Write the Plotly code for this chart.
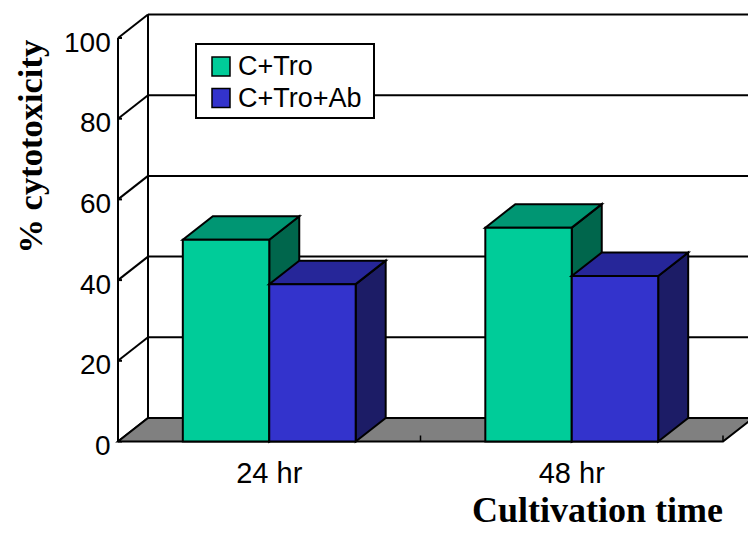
import plotly.graph_objects as go

# ---- data -------------------------------------------------------------
categories = ["24 hr", "48 hr"]
series_names = ["C+Tro", "C+Tro+Ab"]
c_tro = [50, 53]
c_tro_ab = [39, 41]
series_values = [c_tro, c_tro_ab]
y_ticks = [0, 20, 40, 60, 80, 100]

# face colours (front, top, side) for each series
face_colors = [
    ("#00CC99", "#009673", "#00664C"),
    ("#3333CC", "#262699", "#1C1C66"),
]

# ---- pseudo-3D projection ---------------------------------------------
W, H = 748, 533
PX_X = 302.5          # pixels per category unit
PX_Y = 4.035          # pixels per percent
ORIGIN_X = 118        # pixel x of front-left corner
ORIGIN_Y = 441.5      # pixel y of value 0 on the front plane
LEFT, BOTTOM = 110, 80
DX = 30 / PX_X        # depth offset in x units
DY = 23.5 / PX_Y      # depth offset in value units

plot_w = W - LEFT
plot_h = H - BOTTOM
x_lo = -0.5 - (ORIGIN_X - LEFT) / PX_X
x_hi = -0.5 + (W - ORIGIN_X) / PX_X
y_lo = -(plot_h - ORIGIN_Y) / PX_Y
y_hi = ORIGIN_Y / PX_Y

n_cat = len(categories)
x_left_edge = -0.5
x_right_edge = n_cat - 0.5
bar_w = 1 / 3.5

SANS = "Liberation Sans, Arial"
SERIF = "Liberation Serif, Times New Roman"


def path(points):
    return "M " + " L ".join(f"{x:.5f},{y:.5f}" for x, y in points) + " Z"


shapes = []
annotations = []
line_k = dict(color="black", width=2)


def seg(x0, y0, x1, y1, width=2):
    shapes.append(dict(type="line", xref="x", yref="y", x0=x0, y0=y0, x1=x1, y1=y1,
                       line=dict(color="black", width=width), layer="above"))


# back wall gridlines, left wall diagonals and value labels
for v in y_ticks:
    if v > 0:
        seg(x_left_edge + DX, v + DY, x_hi + 1, v + DY)
    seg(x_left_edge, v, x_left_edge + DX, v + DY)
    # short inward tick on the front value axis
    seg(x_left_edge, v, x_left_edge + 4 / PX_X, v)
    annotations.append(dict(xref="x", yref="y", x=x_left_edge, y=v, text=str(v),
                            showarrow=False, xanchor="right", yanchor="middle",
                            xshift=-5, yshift=-4,
                            font=dict(family=SANS, size=28, color="black")))
# back wall left edge and front value axis
seg(x_left_edge + DX, DY, x_left_edge + DX, y_ticks[-1] + DY)
seg(x_left_edge, 0, x_left_edge, y_ticks[-1])

# floor
shapes.append(dict(type="path", xref="x", yref="y", layer="above",
                   path=path([(x_left_edge, 0), (x_right_edge, 0),
                              (x_right_edge + DX, DY), (x_left_edge + DX, DY)]),
                   fillcolor="#808080", line=line_k))
# category ticks on the floor's front edge
for k in range(n_cat + 1):
    xt = x_left_edge + k
    shapes.append(dict(type="line", xref="x", yref="y", layer="above",
                       x0=xt, x1=xt, y0=0, y1=6 / PX_Y,
                       line=dict(color="black", width=1.5)))

# bars
for ci in range(n_cat):
    for si, vals in enumerate(series_values):
        v = vals[ci]
        xl = ci - bar_w + si * bar_w
        xr = xl + bar_w
        front, top, side = face_colors[si]
        shapes.append(dict(type="path", xref="x", yref="y", layer="above",
                           path=path([(xr, 0), (xr + DX, DY), (xr + DX, v + DY), (xr, v)]),
                           fillcolor=side, line=line_k))
        shapes.append(dict(type="path", xref="x", yref="y", layer="above",
                           path=path([(xl, v), (xr, v), (xr + DX, v + DY), (xl + DX, v + DY)]),
                           fillcolor=top, line=line_k))
        shapes.append(dict(type="path", xref="x", yref="y", layer="above",
                           path=path([(xl, 0), (xr, 0), (xr, v), (xl, v)]),
                           fillcolor=front, line=line_k))


# ---- legend (paper coordinates from pixel positions) -------------------
def px_to_paper(px, py):
    return (px - LEFT) / plot_w, (plot_h - py) / plot_h


lx0, ly0 = px_to_paper(196, 118)
lx1, ly1 = px_to_paper(374, 44)
shapes.append(dict(type="rect", xref="paper", yref="paper", x0=lx0, y0=ly0, x1=lx1, y1=ly1,
                   fillcolor="white", line=dict(color="black", width=2), layer="above"))
row_centers = [66.5, 98]
for si, name in enumerate(series_names):
    cy = row_centers[si]
    sx0, sy0 = px_to_paper(212, cy + 9.5)
    sx1, sy1 = px_to_paper(230, cy - 9.5)
    shapes.append(dict(type="rect", xref="paper", yref="paper", x0=sx0, y0=sy0, x1=sx1, y1=sy1,
                       fillcolor=face_colors[si][0], line=dict(color="black", width=1.5),
                       layer="above"))
    tx, ty = px_to_paper(236, cy)
    annotations.append(dict(xref="paper", yref="paper", x=tx, y=ty, text=name,
                            showarrow=False, xanchor="left", yanchor="middle",
                            font=dict(family=SANS, size=27, color="black")))

# axis titles
tx, ty = px_to_paper(29, 146.5)
annotations.append(dict(xref="paper", yref="paper", x=tx, y=ty, text="<b>% cytotoxicity</b>",
                        textangle=-90, showarrow=False, xanchor="center", yanchor="middle",
                        font=dict(family=SERIF, size=34.5, color="black")))
tx, ty = px_to_paper(725, 532)
annotations.append(dict(xref="paper", yref="paper", x=tx, y=ty, text="<b>Cultivation time</b>",
                        showarrow=False, xanchor="right", yanchor="bottom",
                        font=dict(family=SERIF, size=36, color="black")))

fig = go.Figure()
fig.update_layout(
    width=W, height=H,
    margin=dict(l=LEFT, r=0, t=0, b=BOTTOM, pad=0),
    paper_bgcolor="white", plot_bgcolor="white",
    showlegend=False,
    shapes=shapes,
    annotations=annotations,
    xaxis=dict(range=[x_lo, x_hi], tickvals=list(range(n_cat)), ticktext=categories,
               showgrid=False, zeroline=False, showline=False, ticks="",
               ticklabelstandoff=0,
               tickfont=dict(family=SANS, size=29, color="black")),
    yaxis=dict(range=[y_lo, y_hi], showgrid=False, zeroline=False, showline=False,
               showticklabels=False, ticks=""),
)

fig.write_html("out.html")
